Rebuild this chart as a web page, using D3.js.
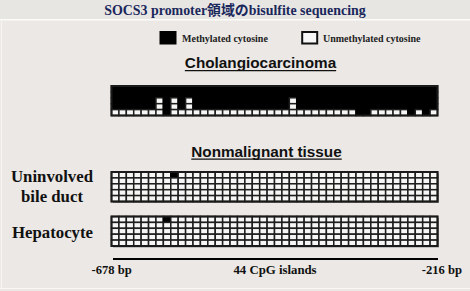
<!DOCTYPE html>
<html><head><meta charset="utf-8">
<script src="https://cdn.jsdelivr.net/npm/d3@7"></script>
<style>
html,body{margin:0;padding:0;background:#ebe8e5;}
svg{display:block;}
</style></head>
<body>
<svg id="chart" width="470" height="291"></svg>
<script>
// ---- data ----
const title = "SOCS3 promoter領域のbisulfite sequencing";
const legendLabels = ["Methylated cytosine", "Unmethylated cytosine"];
const sampleGroups = ["Cholangiocarcinoma", "Nonmalignant tissue"];
const sampleLabels = [[], ["Uninvolved", "bile duct"], ["Hepatocyte"]];
const axisLabels = ["-678 bp", "44 CpG islands", "-216 bp"];
const cpgCount = 44;
// 1 = methylated, 0 = unmethylated; one string per clone, one char per CpG site
const cholangiocarcinoma = [
  "11111111111111111111111111111111111111111111",
  "11111111111111111111111111111111111111111111",
  "11111101010111111111111101111111111111111111",
  "11111101010111111111111101111111111111111111",
  "00000001000000000000000000000000011000001010"
];
const uninvolvedBileDuct = [
  "00000000100000000000000000000000000000000000",
  "00000000000000000000000000000000000000000000",
  "00000000000000000000000000000000000000000000",
  "00000000000000000000000000000000000000000000",
  "00000000000000000000000000000000000000000000"
];
const hepatocyte = [
  "00000001000000000000000000000000000000000000",
  "00000000000000000000000000000000000000000000",
  "00000000000000000000000000000000000000000000",
  "00000000000000000000000000000000000000000000",
  "00000000000000000000000000000000000000000000"
];

// ---- drawing ----
const svg = d3.select("#chart");
const serif = "'Liberation Serif','Times New Roman','Noto Sans CJK JP',serif";
const sans = "'Liberation Sans',Arial,sans-serif";

// background bands
svg.append("rect").attr("x",0).attr("y",0).attr("width",470).attr("height",291).attr("fill","#ebe8e5");
svg.append("rect").attr("x",0).attr("y",0).attr("width",470).attr("height",19.5).attr("fill","#e8e6e3");
svg.append("line").attr("x1",0).attr("x2",470).attr("y1",19.8).attr("y2",19.8).attr("stroke","#fbfbfa").attr("stroke-width",1.5);
svg.append("line").attr("x1",1.5).attr("x2",1.5).attr("y1",20).attr("y2",288).attr("stroke","#f6f5f3").attr("stroke-width",1.2);
svg.append("line").attr("x1",0).attr("x2",470).attr("y1",288.5).attr("y2",288.5).attr("stroke","#f8f7f5").attr("stroke-width",1.2);

svg.append("text").attr("x",235).attr("y",14.8).attr("text-anchor","middle")
  .attr("font-family",serif).attr("font-weight","bold").attr("font-size",13.9)
  .attr("fill","#1a285c").text(title);

// legend
const legY = 31;
svg.append("rect").attr("x",159.5).attr("y",legY).attr("width",17).attr("height",13.5).attr("fill","#000");
svg.append("text").attr("x",182).attr("y",41.5).attr("font-family",serif).attr("font-weight","bold")
  .attr("font-size",10).attr("fill","#222").text(legendLabels[0]);
svg.append("rect").attr("x",302.2).attr("y",legY+1).attr("width",15).attr("height",11.5)
  .attr("fill","#f7f7f7").attr("stroke","#111").attr("stroke-width",2);
svg.append("text").attr("x",323).attr("y",41.5).attr("font-family",serif).attr("font-weight","bold")
  .attr("font-size",10).attr("fill","#222").text(legendLabels[1]);

// group headings (underlined)
function heading(txt, cx, y){
  const t = svg.append("text").attr("x",cx).attr("y",y).attr("text-anchor","middle")
    .attr("font-family",sans).attr("font-weight","bold").attr("font-size",15.3)
    .attr("fill","#111").text(txt);
  const w = t.node().getComputedTextLength();
  svg.append("line").attr("x1",cx-w/2).attr("x2",cx+w/2).attr("y1",y+2.6).attr("y2",y+2.6)
    .attr("stroke","#111").attr("stroke-width",1.4);
}
heading(sampleGroups[0], 260.5, 68);
heading(sampleGroups[1], 266.5, 156.5);

// methylation grids
const x = d3.scaleBand().domain(d3.range(cpgCount)).range([111.5, 437.5]).padding(0);
function grid(rows, y0, y1, shadow){
  const y = d3.scaleBand().domain(d3.range(rows.length)).range([y0, y1]);
  const g = svg.append("g");
  if (shadow) {
    g.append("rect").attr("x",x.range()[0]+1.5).attr("y",y0+1.5)
      .attr("width",x.range()[1]-x.range()[0]).attr("height",y1-y0).attr("fill","#9a9896");
  }
  const cells = [];
  rows.forEach((r,i)=>r.split("").forEach((c,j)=>cells.push({row:i,col:j,m:c==="1"})));
  g.selectAll("rect.cell").data(cells).join("rect").attr("class","cell")
    .attr("x",d=>x(d.col)).attr("y",d=>y(d.row))
    .attr("width",x.bandwidth()).attr("height",y.bandwidth())
    .attr("fill",d=>d.m?"#000":"#f6f6f4").attr("stroke",d=>d.m?"#000":"#1e1e1e").attr("stroke-width",1.5);
  g.append("rect").attr("x",x.range()[0]).attr("y",y0)
    .attr("width",x.range()[1]-x.range()[0]).attr("height",y1-y0)
    .attr("fill","none").attr("stroke","#1a1a1a").attr("stroke-width",2);
}
grid(cholangiocarcinoma, 86, 115.5, false);
grid(uninvolvedBileDuct, 172, 201.5, true);
grid(hepatocyte, 216.5, 246, true);

// sample labels
function label(lines, cx, ys){
  lines.forEach((l,i)=>svg.append("text").attr("x",cx).attr("y",ys[i]).attr("text-anchor","middle")
    .attr("font-family",serif).attr("font-weight","bold").attr("font-size",16.8).attr("fill","#111").text(l));
}
label(sampleLabels[1], 52, [181.5, 202]);
label(sampleLabels[2], 52.5, [237.5]);

// position axis
svg.append("line").attr("x1",x.range()[0]+1.5).attr("x2",x.range()[1]+0.5).attr("y1",259).attr("y2",259)
  .attr("stroke","#000").attr("stroke-width",2);
const axY = 273.5;
svg.append("text").attr("x",91.5).attr("y",axY).attr("font-family",serif).attr("font-weight","bold")
  .attr("font-size",12.6).attr("fill","#111").text(axisLabels[0]);
svg.append("text").attr("x",275).attr("y",axY).attr("text-anchor","middle").attr("font-family",serif).attr("font-weight","bold")
  .attr("font-size",12.8).attr("fill","#111").text(axisLabels[1]);
svg.append("text").attr("x",462).attr("y",axY).attr("text-anchor","end").attr("font-family",serif).attr("font-weight","bold")
  .attr("font-size",12.6).attr("fill","#111").text(axisLabels[2]);
</script>
</body></html>
